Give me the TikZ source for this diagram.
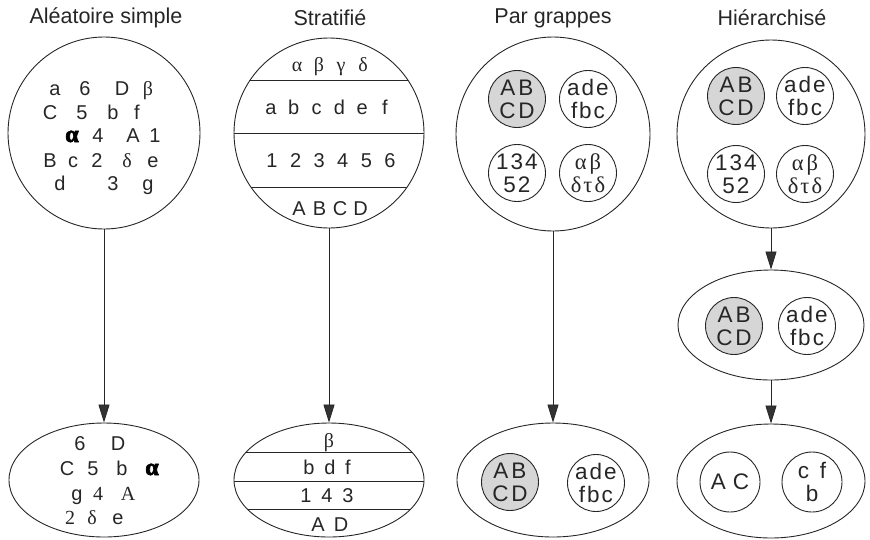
\documentclass[tikz,border=0pt]{standalone}
\usepackage{fontspec}
\setmainfont{Liberation Sans}
\newfontfamily\grk{Liberation Serif}
\newfontfamily\heavygrk[FakeBold=3]{Liberation Serif Bold}
\usetikzlibrary{shapes.geometric,arrows.meta}
\begin{document}
\begin{tikzpicture}[x=1pt,y=-1pt,
  ink/.style={draw=black!85, line width=0.9pt},
  bigcirc/.style={ink, circle, inner sep=0pt},
  bigoval/.style={ink, ellipse, inner sep=0pt},
  grp/.style={ink, circle, minimum size=57pt, inner sep=0pt},
  shaded/.style={grp, fill=black!16},
  grptext/.style={inner sep=0pt, align=center, text=black!85,
    font=\fontsize{22.5}{23}\selectfont},
  title/.style={inner sep=0pt, text=black!85, font=\fontsize{21.5}{24}\selectfont},
  lbl/.style={inner sep=0pt, anchor=base, text=black!85, font=\fontsize{20}{20}\selectfont},
  blob/.style={lbl, text=black, font=\fontsize{24}{24}\selectfont\heavygrk},
  arr/.style={draw=black!85, line width=0.8pt,
    -{Triangle[length=18pt,width=11pt,fill=black!80]}},
]
\useasboundingbox (0,0) rectangle (870,539);

% ---------- titles ----------
\node[title] (t1) at (106,18) {Aléatoire simple};
\node[title] (t2) at (330,18) {Stratifié};
\node[title] (t3) at (553,18) {Par grappes};
\node[title] (t4) at (772,18) {Hiérarchisé};

% ---------- simple random sampling ----------
\node[bigcirc, minimum size=192pt] (c1) at (104,133) {};
\node[bigoval, minimum width=190pt, minimum height=114pt] (o1) at (104,480) {};
\draw[arr] (c1.south) -- (o1.north);

\foreach \s/\x/\y [count=\i] in {
  a/55/88, 6/85/88, D/122/88, {\grk β}/148/88,
  C/50/112, 5/82/112, b/113/112, f/137/112,
  4/98/135, A/133/135, 1/155/135,
  B/50/160, c/73/160, 2/97/160, {\grk δ}/127/160, e/153/160,
  d/60/183, 3/113/183, g/148/183}
  \node[lbl] (pa\i) at (\x,\y+7) {\s};
\node[blob] (pa0) at (72,142) {α};

\foreach \s/\x/\y [count=\i] in {
  6/80/443, D/118/443,
  C/67/468, 5/93/468, b/122/468,
  g/77/493, {\grk 4}/98/493, {\grk A}/128/493,
  {\grk 2}/70/517, {\grk δ}/92/517, e/118/517}
  \node[lbl] (sa\i) at (\x,\y+7) {\s};
\node[blob] (sa0) at (152,475) {α};

% ---------- stratified sampling ----------
\node[bigcirc, minimum size=190pt] (c2) at (329,133) {};
\node[bigoval, minimum width=190pt, minimum height=114pt] (o2) at (329,480) {};
\draw[arr] (c2.south) -- (o2.north);
\begin{scope}
  \clip (329,133) circle (95pt);
  \foreach \y in {80,133,187} \draw[ink] (220,\y) -- (440,\y);
\end{scope}
\begin{scope}
  \clip (329,480) ellipse (95pt and 57pt);
  \foreach \y in {452,481,509} \draw[ink] (220,\y) -- (440,\y);
\end{scope}

\foreach \s [count=\i] in {α,β,γ,δ}
  \node[lbl, font=\fontsize{20}{20}\selectfont\grk] (sg\i) at ({297+22*(\i-1)},64+7) {\s};
\foreach \s [count=\i] in {a,b,c,d,e,f}
  \node[lbl] (sl\i) at ({271+22.8*(\i-1)},107+7) {\s};
\foreach \s [count=\i] in {1,2,3,4,5,6}
  \node[lbl] (sd\i) at ({272+23.6*(\i-1)},160+7) {\s};
\foreach \s [count=\i] in {A,B,C,D}
  \node[lbl] (su\i) at ({299+20.5*(\i-1)},208+7) {\s};

\node[lbl, font=\fontsize{20}{20}\selectfont\grk] (tg1) at (329,440+7) {β};
\foreach \s/\x [count=\i] in {b/309,d/330,f/348}
  \node[lbl] (tl\i) at (\x,467+7) {\s};
\foreach \s/\x [count=\i] in {1/306,4/327,3/348}
  \node[lbl] (td\i) at (\x,495+7) {\s};
\foreach \s/\x [count=\i] in {A/318,D/341}
  \node[lbl] (tu\i) at (\x,524+7) {\s};

% ---------- cluster sampling ----------
\node[bigcirc, minimum size=194pt] (c3) at (553,134) {};
\node[bigoval, minimum width=192pt, minimum height=114pt] (o3) at (553,480) {};
\draw[arr] (c3.south) -- (o3.north);

\node[shaded] (g31) at (517,99) {};
\node[grp] (g32) at (588,99) {};
\node[grp] (g33) at (517,173) {};
\node[grp] (g34) at (588,173) {};
\node[grptext] (x31) at (g31) {A\kern3pt B\\C\kern3pt D};
\node[grptext] (x32) at (g32) {a\kern2pt d\kern2pt e\\f\kern2pt b\kern2pt c};
\node[grptext] (x33) at (g33) {1\kern2pt 3\kern2pt 4\\5\kern2pt 2};
\node[grptext, font=\fontsize{22.5}{23}\selectfont\grk] (x34) at (g34) {α\kern3pt β\\δ\kern2pt τ\kern2pt δ};

\node[shaded] (h31) at (510,482) {};
\node[grp] (h32) at (596,483) {};
\node[grptext] (y31) at (h31) {A\kern3pt B\\C\kern3pt D};
\node[grptext] (y32) at (h32) {a\kern2pt d\kern2pt e\\f\kern2pt b\kern2pt c};

% ---------- multistage sampling ----------
\node[bigcirc, minimum size=188pt] (c4) at (771,134) {};
\node[bigoval, minimum width=186pt, minimum height=110pt] (m4) at (771,325) {};
\node[bigoval, minimum width=188pt, minimum height=114pt] (o4) at (771,481) {};
\draw[arr] (c4.south) -- (m4.north);
\draw[arr] (m4.south) -- (o4.north);

\node[shaded] (g41) at (736,96) {};
\node[grp] (g42) at (805,96) {};
\node[grp] (g43) at (736,174) {};
\node[grp] (g44) at (805,174) {};
\node[grptext] (x41) at (g41) {A\kern3pt B\\C\kern3pt D};
\node[grptext] (x42) at (g42) {a\kern2pt d\kern2pt e\\f\kern2pt b\kern2pt c};
\node[grptext] (x43) at (g43) {1\kern2pt 3\kern2pt 4\\5\kern2pt 2};
\node[grptext, font=\fontsize{22.5}{23}\selectfont\grk] (x44) at (g44) {α\kern3pt β\\δ\kern2pt τ\kern2pt δ};

\node[shaded] (k41) at (734,326) {};
\node[grp] (k42) at (807,326) {};
\node[grptext] (z41) at (k41) {A\kern3pt B\\C\kern3pt D};
\node[grptext] (z42) at (k42) {a\kern2pt d\kern2pt e\\f\kern2pt b\kern2pt c};

\node[grp, minimum size=60pt] (j41) at (730,482) {};
\node[grp, minimum size=60pt] (j42) at (812,482) {};
\node[grptext] (w41) at (j41) {A\kern7pt C};
\node[grptext] (w42) at (j42) {c\kern11pt f\\b};

\end{tikzpicture}
\end{document}
